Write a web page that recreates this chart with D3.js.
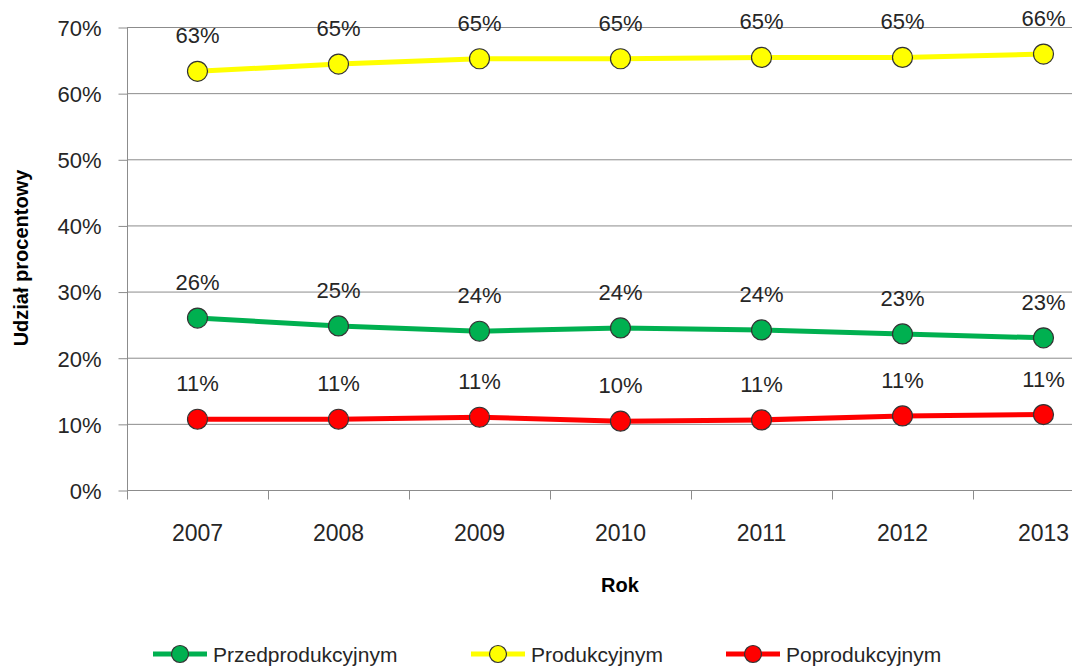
<!DOCTYPE html>
<html>
<head>
<meta charset="utf-8">
<script src="https://cdn.jsdelivr.net/npm/d3@7"></script>
<style>
  body { margin: 0; background: #fff; }
  svg { display: block; font-family: "Liberation Sans", Arial, sans-serif; }
  .tick text { fill: #262626; font-size: 22px; }
  .dlabel { fill: #262626; font-size: 22px; }
  .legend text { fill: #262626; font-size: 21px; }
</style>
</head>
<body>
<svg width="1072" height="668"></svg>
<script>
(function() {
  var years = ["2007", "2008", "2009", "2010", "2011", "2012", "2013"];
  var przed = [0.260, 0.248, 0.240, 0.245, 0.242, 0.236, 0.230];
  var prod = [0.633, 0.644, 0.652, 0.652, 0.654, 0.654, 0.659];
  var popr = [0.107, 0.107, 0.110, 0.104, 0.106, 0.112, 0.114];
  var przedLabels = ["26%", "25%", "24%", "24%", "24%", "23%", "23%"];
  var prodLabels = ["63%", "65%", "65%", "65%", "65%", "65%", "66%"];
  var poprLabels = ["11%", "11%", "11%", "10%", "11%", "11%", "11%"];
  var yTicks = [0, 0.1, 0.2, 0.3, 0.4, 0.5, 0.6, 0.7];

  var series = [
    {name: "Przedprodukcyjnym", values: przed, labels: przedLabels, color: "#00b050"},
    {name: "Produkcyjnym", values: prod, labels: prodLabels, color: "#ffff00"},
    {name: "Poprodukcyjnym", values: popr, labels: poprLabels, color: "#ff0000"}
  ];

  var svg = d3.select("svg"),
      left = 127, top = 27, bottom = 490,
      step = 141;

  // plot area runs past the right edge of the picture, as in the original
  var x = d3.scaleBand().domain(years).range([left, left + step * years.length]);
  var y = d3.scaleLinear().domain([0, 0.7]).range([bottom, top]);

  var clipW = 1072;

  // gridlines
  svg.append("g")
    .selectAll("line").data(yTicks.slice(1))
    .enter().append("line")
    .attr("x1", left).attr("x2", clipW)
    .attr("y1", function(d) { return y(d) + 0.5; })
    .attr("y2", function(d) { return y(d) + 0.5; })
    .attr("stroke", "#8c8c8c").attr("stroke-width", 1);

  // y axis
  var yAxis = svg.append("g")
    .attr("transform", "translate(" + (left + 0.5) + ",0.5)")
    .call(d3.axisLeft(y).tickValues(yTicks).tickFormat(d3.format(".0%")).tickSize(9).tickPadding(17));
  yAxis.select(".domain").attr("stroke", "#8c8c8c").attr("d", "M0," + top + "V" + bottom);
  yAxis.selectAll(".tick line").attr("stroke", "#8c8c8c");
  yAxis.selectAll(".tick text").attr("dy", "0.36em");

  // x axis
  var xAxis = svg.append("g")
    .attr("transform", "translate(0," + (bottom + 0.5) + ")")
    .call(d3.axisBottom(x).tickSize(0).tickPadding(42));
  xAxis.select(".domain").attr("stroke", "#8c8c8c").attr("d", "M" + left + ",0H" + clipW);
  xAxis.selectAll(".tick text").attr("dy", "0.36em").style("font-size", "23px");
  // category boundary ticks
  xAxis.selectAll(".bnd").data(years)
    .enter().append("line")
    .attr("class", "bnd")
    .attr("x1", function(d) { return Math.round(x(d) + step) + 0.5; })
    .attr("x2", function(d) { return Math.round(x(d) + step) + 0.5; })
    .attr("y1", 0).attr("y2", 9)
    .attr("stroke", "#8c8c8c");
  xAxis.append("line")
    .attr("x1", left + 0.5).attr("x2", left + 0.5).attr("y1", 0).attr("y2", 9)
    .attr("stroke", "#8c8c8c");

  var cx = function(d, i) { return x(years[i]) + x.bandwidth() / 2; };

  var line = d3.line()
    .x(function(d, i) { return x(years[i]) + x.bandwidth() / 2; })
    .y(function(d) { return y(d); });

  series.forEach(function(s) {
    var g = svg.append("g");
    g.append("path")
      .datum(s.values)
      .attr("d", line)
      .attr("fill", "none")
      .attr("stroke", s.color)
      .attr("stroke-width", 5);
    g.selectAll("circle").data(s.values)
      .enter().append("circle")
      .attr("cx", cx)
      .attr("cy", function(d) { return y(d); })
      .attr("r", 10)
      .attr("fill", s.color)
      .attr("stroke", "#333")
      .attr("stroke-width", 1.2);
    g.selectAll("text").data(s.values)
      .enter().append("text")
      .attr("class", "dlabel")
      .attr("x", cx)
      .attr("y", function(d) { return y(d) - 36; })
      .attr("dy", "0.36em")
      .attr("text-anchor", "middle")
      .text(function(d, i) { return s.labels[i]; });
  });

  // axis titles
  svg.append("text")
    .attr("transform", "translate(28,258) rotate(-90)")
    .attr("text-anchor", "middle")
    .attr("font-weight", "bold")
    .attr("font-size", 20)
    .attr("fill", "#000")
    .text("Udział procentowy");

  svg.append("text")
    .attr("x", 620).attr("y", 585)
    .attr("dy", "0.36em")
    .attr("text-anchor", "middle")
    .attr("font-weight", "bold")
    .attr("font-size", 20)
    .attr("fill", "#000")
    .text("Rok");

  // legend
  var legendX = [180, 498, 753];
  var legend = svg.append("g").attr("class", "legend")
    .selectAll("g").data(series)
    .enter().append("g")
    .attr("transform", function(d, i) { return "translate(" + legendX[i] + ",654)"; });
  legend.append("line")
    .attr("x1", -27).attr("x2", 27)
    .attr("stroke", function(d) { return d.color; })
    .attr("stroke-width", 5);
  legend.append("circle")
    .attr("r", 8.5)
    .attr("fill", function(d) { return d.color; })
    .attr("stroke", "#333")
    .attr("stroke-width", 1.2);
  legend.append("text")
    .attr("x", 33)
    .attr("dy", "0.36em")
    .text(function(d) { return d.name; });
})();
</script>
</body>
</html>
